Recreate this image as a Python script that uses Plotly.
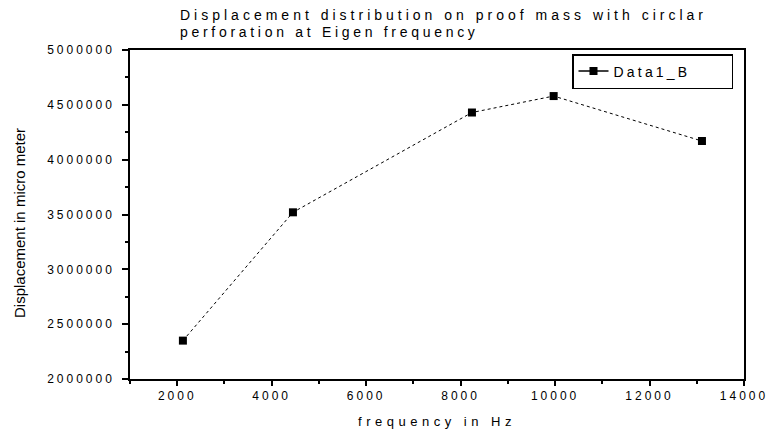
import plotly.graph_objects as go

freq = [2120, 4450, 8240, 9970, 13110]
disp = [2350000, 3520000, 4430000, 4580000, 4170000]
series_name = "Data1_B"
title_lines = ["Displacement distribution on proof mass with circlar",
               "perforation at Eigen frequency"]
x_title = "frequency in Hz"
y_title = "Displacement in micro meter"

sans = "Liberation Sans, Arial, Helvetica, sans-serif"

fig = go.Figure()
fig.add_trace(go.Scatter(
    x=freq, y=disp, name=series_name, mode="lines+markers",
    line=dict(color="black", width=1, dash="dot"),
    marker=dict(symbol="square", size=8, color="black"),
    showlegend=False,
))
# legend key (solid line with square, as in the reference key)
fig.add_trace(go.Scatter(
    x=[None], y=[None], name=series_name, mode="lines+markers",
    line=dict(color="black", width=1.5),
    marker=dict(symbol="square", size=8, color="black"),
    showlegend=True,
))

L, R, T, B = 130, 27, 50, 56
PW, PH = 771 - L - R, 435 - T - B

def px_x(px):
    return (px - L) / PW

def px_y(py):
    return 1 - (py - T) / PH

annotations = []
for i, line in enumerate(title_lines):
    annotations.append(dict(
        text=line, xref="paper", yref="paper",
        x=px_x(178), y=px_y(25 + 17 * i), xanchor="left", yanchor="bottom",
        align="left", showarrow=False, font=dict(size=14, family=sans),
    ))
annotations.append(dict(
    text=y_title, xref="paper", yref="paper", textangle=-90,
    x=px_x(19), y=px_y(223), xanchor="center", yanchor="middle",
    showarrow=False, font=dict(size=15, family=sans),
))

fig.update_layout(
    width=771, height=435,
    margin=dict(l=L, r=R, t=T, b=B, autoexpand=False),
    paper_bgcolor="white", plot_bgcolor="white",
    font=dict(family=sans, color="black", size=12),
    showlegend=True,
    legend=dict(x=px_x(572), y=px_y(54), xanchor="left", yanchor="top",
                orientation="h", entrywidth=113, entrywidthmode="pixels",
                bordercolor="black", borderwidth=1.5, bgcolor="white",
                font=dict(size=14, family=sans)),
    annotations=annotations,
)
fig.update_xaxes(
    range=[1000, 14000], tickvals=list(range(2000, 14001, 2000)), tickformat="d",
    ticks="outside", ticklen=5, tickwidth=1.5, tickcolor="black",
    minor=dict(tickvals=list(range(1000, 14001, 1000)), ticks="outside", ticklen=3, tickcolor="black"),
    showline=True, linecolor="black", linewidth=1.5, mirror=True,
    showgrid=False, zeroline=False,
    title=dict(text=x_title, font=dict(size=13, family=sans), standoff=15),
    tickfont=dict(size=12, family=sans),
)
fig.update_yaxes(
    range=[2000000, 5000000], tickvals=list(range(2000000, 5000001, 500000)),
    tickformat="d",
    ticks="outside", ticklen=6, tickwidth=1.5, tickcolor="black",
    minor=dict(tickvals=list(range(2000000, 5000001, 250000)), ticks="outside", ticklen=3, tickcolor="black"),
    showline=True, linecolor="black", linewidth=1.5, mirror=True,
    showgrid=False, zeroline=False,
    ticklabelstandoff=5,
    tickfont=dict(size=12, family=sans),
)

# The reference renders its lettering with wide tracking; reproduce that with CSS letter-spacing,
# then redraw so that Plotly measures the tracked text.
post = """
var gd = document.getElementById('{plot_id}');
var st = document.createElement('style');
st.textContent = [
  '.xtick text, .ytick text { letter-spacing: 3px; }',
  '.g-xtitle text { letter-spacing: 4.5px; }',
  '.annotation[data-index="0"] .annotation-text { letter-spacing: 4px; }',
  '.annotation[data-index="1"] .annotation-text { letter-spacing: 3.7px; }',
  '.legendtext { letter-spacing: 3.2px; }'
].join('\\n');
document.head.appendChild(st);
Plotly.redraw(gd);
"""

fig.write_html("out.html", post_script=post)
